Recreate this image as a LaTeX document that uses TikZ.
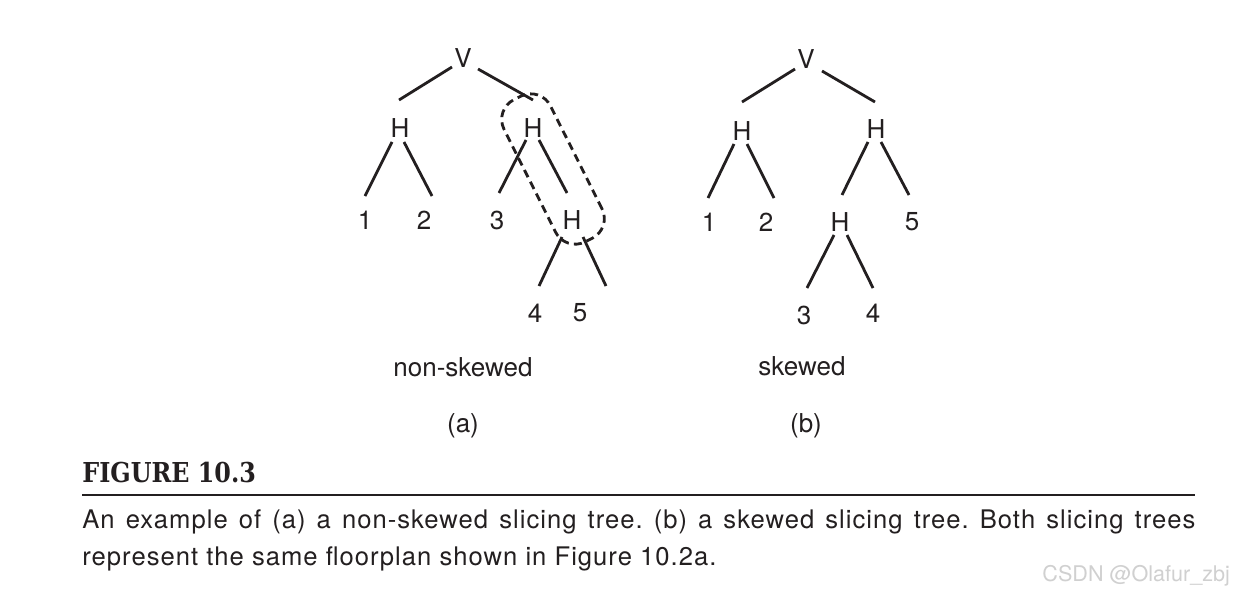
\documentclass[tikz,border=0pt]{standalone}
\usepackage{fontspec}
\setmainfont{TeX Gyre Heros}
\newfontfamily\capfont{TeX Gyre Heros}[LetterSpace=4]
\newfontfamily\figfont{DejaVu Serif}[FakeStretch=0.87]
\definecolor{ink}{RGB}{35,31,32}
\definecolor{mark}{RGB}{208,208,208}
\frenchspacing
\begin{document}
\begin{tikzpicture}[x=0.5pt,y=-0.5pt,
  every node/.style={inner sep=0pt,text=ink,font=\fontsize{13}{15}\selectfont},
  link/.style={draw=ink,line width=1.4pt},
  region/.style={draw=ink,line width=1.4pt,dash pattern=on 4pt off 2.6pt,rounded corners=11pt}]
\fill [white] (0,0) rectangle (1234,594);
\useasboundingbox (0,0) rectangle (1234,594);
% (a) non-skewed
\node (vA) at (463,58) {V};
\node (hA1) at (400,128) {H};
\node (hA2) at (533,128) {H};
\node (a1) at (365,220) {1};
\node (a2) at (424,220) {2};
\node (a3) at (497,220) {3};
\node (hA3) at (572,220) {H};
\node (a4) at (535,313) {4};
\node (a5) at (580,313) {5};
\draw [link] ([shift={(-11,9)}]vA.center) -- ([shift={(-1,-28)}]hA1.center);
\draw [link] ([shift={(15,11)}]vA.center) -- ([shift={(0,-28)}]hA2.center);
\draw [link] ([shift={(-8,14)}]hA1.center) -- ([shift={(0,-24)}]a1.center);
\draw [link] ([shift={(4,14)}]hA1.center) -- ([shift={(8,-24)}]a2.center);
\draw [link] ([shift={(-7,12)}]hA2.center) -- ([shift={(2,-27)}]a3.center);
\draw [link] ([shift={(6,12)}]hA2.center) -- ([shift={(-5,-27)}]hA3.center);
\draw [link] ([shift={(-10,17)}]hA3.center) -- ([shift={(4,-27)}]a4.center);
\draw [link] ([shift={(11,17)}]hA3.center) -- ([shift={(26,-27)}]a5.center);
\node [region,rotate=-63.4,minimum width=79.5pt,minimum height=26pt] (grp) at (553,169) {};
\node (capA) at (463,367) {non-skewed};
\node (tagA) at (463,426) {(a)};
% (b) skewed
\node (vB) at (806,59) {V};
\node (hB1) at (742,131) {H};
\node (hB2) at (876,129) {H};
\node (b1) at (709,222) {1};
\node (b2) at (766,222) {2};
\node (hB3) at (840,222) {H};
\node (b5) at (912,222) {5};
\node (b3) at (804,315) {3};
\node (b4) at (873,313) {4};
\draw [link] ([shift={(-11,10)}]vB.center) -- ([shift={(0,-29)}]hB1.center);
\draw [link] ([shift={(16,12)}]vB.center) -- ([shift={(-1,-27)}]hB2.center);
\draw [link] ([shift={(-8,13)}]hB1.center) -- ([shift={(-1,-24)}]b1.center);
\draw [link] ([shift={(5,13)}]hB1.center) -- ([shift={(8,-24)}]b2.center);
\draw [link] ([shift={(-8,13)}]hB2.center) -- ([shift={(2,-27)}]hB3.center);
\draw [link] ([shift={(5,13)}]hB2.center) -- ([shift={(-3,-27)}]b5.center);
\draw [link] ([shift={(-6,13)}]hB3.center) -- ([shift={(3,-27)}]b3.center);
\draw [link] ([shift={(7,13)}]hB3.center) -- ([shift={(0,-25)}]b4.center);
\node (capB) at (802,366) {skewed};
\node (tagB) at (806,426) {(b)};
% caption
\node [anchor=base west,font={\figfont\fontsize{13.7}{16}\selectfont\bfseries}] (fig) at (82,482) {FIGURE 10.3};
\draw [ink,line width=1.2pt] (82,495) -- (1195,495);
\node [anchor=base west,font={\capfont\fontsize{12.8}{15}\selectfont}] (cap1) at (82,528) {\makebox[556.5pt][s]{An example of (a) a non-skewed slicing tree. (b) a skewed slicing tree. Both slicing trees}};
\node [anchor=base west,font={\capfont\fontsize{12.8}{15}\selectfont}] (cap2) at (82,565) {represent the same floorplan shown in Figure 10.2a.};
\node [anchor=base west,text=mark,font=\fontsize{10.8}{12}\selectfont] (wm) at (1042,581) {CSDN @Olafur\_zbj};
\end{tikzpicture}
\end{document}
